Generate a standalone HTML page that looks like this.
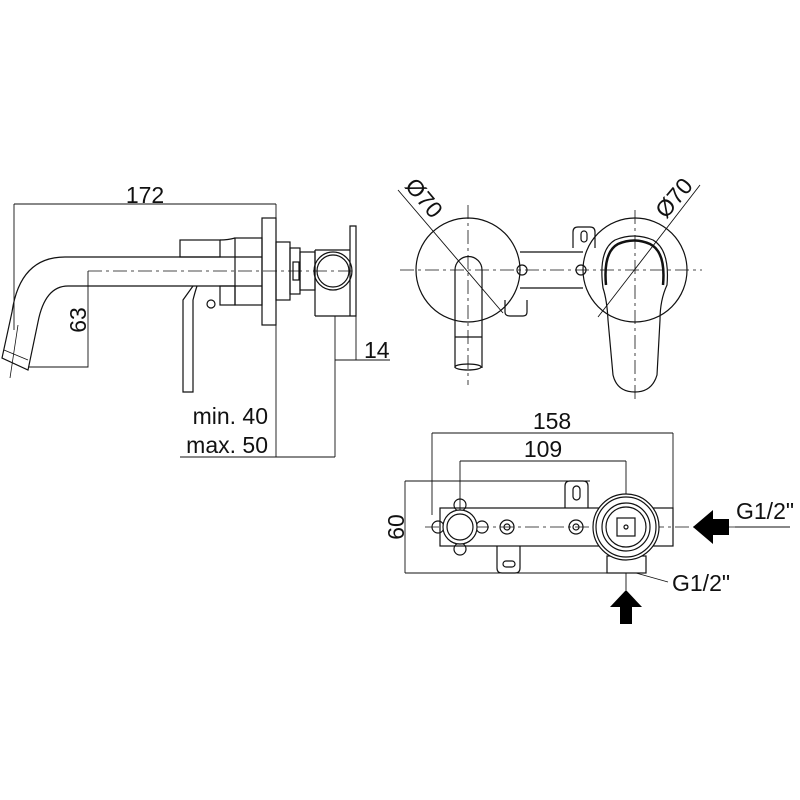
<!DOCTYPE html>
<html><head><meta charset="utf-8"><style>body{margin:0;background:#fff}svg{display:block}</style></head><body>
<svg width="800" height="800" viewBox="0 0 800 800" xmlns="http://www.w3.org/2000/svg" font-family="Liberation Sans, sans-serif">
<g fill="none" stroke="#111" stroke-width="1.2">
<path d="M14,204 H276 M14,204 V330 M276,204 V457" stroke-width="0.9"/>
<rect x="262" y="218" width="14" height="107"/>
<path d="M262,257 H65 Q20,257 12,312 L2,358 L28,370 L38,322 Q45,286 68,286 H262"/>
<path d="M4,350 L28,360 M18,325 L10,378" stroke-width="0.8"/>
<path d="M88,271 H355" stroke-dasharray="14,4,3,4" stroke-width="0.8"/>
<path d="M88,271 V367 H28" stroke-width="0.9"/>
<rect x="180" y="240" width="40" height="17"/>
<path d="M220,240 Q228,240 235,238"/>
<rect x="235" y="238" width="27" height="67"/>
<rect x="220" y="286" width="15" height="19"/>
<path d="M193,286 L183,300 V392 H193 V300 Q195,292 197,286"/>
<circle cx="211" cy="304" r="4"/>
<rect x="276" y="242" width="14" height="58"/>
<rect x="290" y="248" width="10" height="46"/>
<rect x="300" y="252" width="15" height="38"/>
<rect x="293" y="262" width="6" height="18"/>
<path d="M315,250 H350 M315,316 H356 V226 H350 V316"/>
<path d="M315,250 V316"/>
<circle cx="333" cy="271" r="19"/>
<circle cx="333" cy="271" r="16"/>
<path d="M335,316 V360 M356,316 V360 M335,360 H390 M335,360 V457 M180,457 H335" stroke-width="0.9"/>
<path d="M400,270 H702 M468,205 V385 M635,210 V400" stroke-dasharray="14,4,3,4" stroke-width="0.8"/>
<circle cx="468" cy="270" r="52"/>
<circle cx="635" cy="270" r="52"/>
<path d="M398,190 L503,313 M700,185 L598,317" stroke-width="0.9"/>
<path d="M520,252 H583 M520,288 H583"/>
<path d="M573,248 V232 Q573,227 578,227 H590 Q595,227 595,232 V248"/>
<rect x="581" y="231" width="6" height="11" rx="3"/>
<path d="M505,300 V312 Q505,316 510,316 H523 Q527,316 527,312 V300"/>
<circle cx="522" cy="270" r="5"/><circle cx="581" cy="270" r="5"/>
<path d="M455,368 V270 A13.5,13.5 0 0 1 482,270 V368"/>
<path d="M455,337 H482"/>
<ellipse cx="468" cy="367" rx="13" ry="3"/>
<path d="M603,288 Q598,250 615,240 Q634,232 653,240 Q670,250 667,285 Q660,300 660,320 L657,375 Q652,392 635,392 Q617,392 613,375 L608,320 Q607,300 603,288 Z"/>
<path d="M606,285 Q603,252 618,244 Q634,237 650,244 Q666,252 663,285" stroke-width="2.5"/>
<path d="M432,433 H673 M432,433 V515 M673,433 V508 M460,461 H626 M460,461 V530 M626,461 V527 M405,481 H590 M405,573 H645 M405,481 V573" stroke-width="0.9"/>
<rect x="440" y="508" width="233" height="38"/>
<path d="M565,508 V486 Q565,481 570,481 H583 Q588,481 588,486 V508"/>
<rect x="573" y="486" width="7" height="14" rx="3.5"/>
<path d="M497,546 V568 Q497,573 502,573 H515 Q520,573 520,568 V546"/>
<rect x="503" y="561" width="12" height="6" rx="3"/>
<path d="M425,527 H790" stroke-dasharray="14,4,3,4" stroke-width="0.8"/>
<circle cx="460" cy="505" r="6"/><circle cx="460" cy="549" r="6"/>
<circle cx="438" cy="527" r="6"/><circle cx="482" cy="527" r="6"/>
<circle cx="460" cy="527" r="17" fill="#fff"/>
<circle cx="460" cy="527" r="13"/>
<circle cx="507" cy="527" r="7"/><circle cx="507" cy="527" r="3"/>
<circle cx="576" cy="527" r="7"/><circle cx="576" cy="527" r="3"/>
<rect x="607" y="556" width="39" height="17"/>
<circle cx="626" cy="527" r="33" fill="#fff"/>
<circle cx="626" cy="527" r="30"/>
<circle cx="626" cy="527" r="24"/>
<circle cx="626" cy="527" r="20"/>
<rect x="617" y="518" width="18" height="18"/>
<circle cx="626" cy="527" r="2"/>
<path d="M626,573 V590 M636,573 L668,582 M735,527 H790" stroke-width="0.9"/>
</g>
<path d="M693,527 L713,510 V519 H729 V535 H713 V544 Z" fill="#000"/>
<path d="M626,590 L642,607 H632 V624 H620 V607 H610 Z" fill="#000"/>
<g fill="#111" font-size="23">
<text x="145" y="203" text-anchor="middle">172</text>
<text transform="translate(86,320) rotate(-90)" text-anchor="middle">63</text>
<text x="364" y="358">14</text>
<text x="268" y="424" text-anchor="end">min. 40</text>
<text x="268" y="453" text-anchor="end">max. 50</text>
<text transform="translate(418,203) rotate(50)" text-anchor="middle">Ø70</text>
<text transform="translate(680,203) rotate(-50)" text-anchor="middle">Ø70</text>
<text x="552" y="429" text-anchor="middle">158</text>
<text x="543" y="457" text-anchor="middle">109</text>
<text transform="translate(404,527) rotate(-90)" text-anchor="middle">60</text>
<text x="736" y="519">G1/2"</text>
<text x="672" y="591">G1/2"</text>
</g>
</svg>
</body></html>
